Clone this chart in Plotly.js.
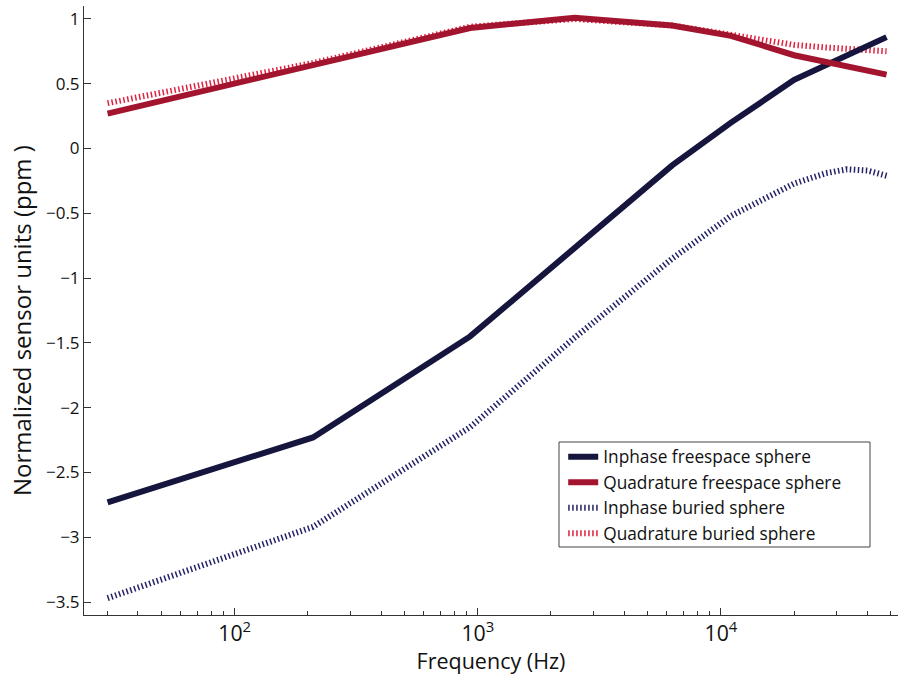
<!DOCTYPE html>
<html><head><meta charset="utf-8">
<script src="https://cdn.plot.ly/plotly-3.0.1.min.js"></script>
<style>html,body{margin:0;padding:0;background:#fff}#chart{width:898px;height:675px}</style>
</head><body><div id="chart"></div>
<script>
const freqSolid = [30, 210, 930, 2500, 6300, 11000, 20000, 48000];
const inphaseFree = [-2.73, -2.23, -1.45, -0.77, -0.13, 0.20, 0.53, 0.86];
const quadFree = [0.27, 0.64, 0.93, 1.01, 0.95, 0.87, 0.72, 0.57];
const freqBuried = [30, 210, 930, 2500, 6300, 11000, 20000, 27000, 33000, 40000, 48000];
const inphaseBuried = [-3.47, -2.92, -2.15, -1.46, -0.85, -0.52, -0.27, -0.19, -0.16, -0.17, -0.21];
const quadBuried = [0.35, 0.66, 0.94, 1.00, 0.95, 0.88, 0.80, 0.78, 0.77, 0.76, 0.75];
const names = ['Inphase freespace sphere', 'Quadrature freespace sphere', 'Inphase buried sphere', 'Quadrature buried sphere'];
const xTitle = 'Frequency (Hz)';
const yTitle = 'Normalized sensor units (ppm )';

const traces = [
  {x: freqSolid, y: inphaseFree, name: names[0], mode: 'lines', line: {color: '#15153d', width: 6}},
  {x: freqSolid, y: quadFree, name: names[1], mode: 'lines', line: {color: '#a3152e', width: 6}},
  {x: freqBuried, y: inphaseBuried, name: names[2], mode: 'lines', line: {color: '#232366', width: 6, dash: '1.5px,2.5px'}},
  {x: freqBuried, y: quadBuried, name: names[3], mode: 'lines', line: {color: '#e0203f', width: 6, dash: '1.5px,2.5px'}}
];
const ordered = [traces[2], traces[3], traces[0], traces[1]];
ordered[0].legendrank = 3; ordered[1].legendrank = 4; ordered[2].legendrank = 1; ordered[3].legendrank = 2;

const font = 'Open Sans, Noto Sans, sans-serif';
const W = 814, H = 609, L = 84, B = 615;
const layout = {
  width: 898, height: 675,
  margin: {l: 84, r: 0, t: 6, b: 60},
  paper_bgcolor: '#fff', plot_bgcolor: '#fff',
  font: {family: font, color: '#111', size: 16},
  showlegend: true,
  legend: {x: 0.5887, y: 0.2890, xanchor: 'left', yanchor: 'top', bgcolor: 'rgba(0,0,0,0)',
           borderwidth: 0, font: {size: 17.3, family: font},
           tracegroupgap: 0, itemwidth: 30, traceorder: 'normal'},
  shapes: [{type: 'rect', xref: 'paper', yref: 'paper', layer: 'above',
            x0: (559 - L) / W, x1: (870 - L) / W, y0: (B - 547) / H, y1: (B - 442) / H,
            line: {color: '#444', width: 1}, fillcolor: '#fff'}],
  xaxis: {type: 'log', range: [Math.log10(24), Math.log10(53500)],
          showline: true, linecolor: '#333', linewidth: 1, mirror: false,
          ticks: 'inside', ticklen: 7, tickcolor: '#333', dtick: 1,
          exponentformat: 'power', showgrid: false, zeroline: false,
          tickfont: {size: 17},
          minor: {ticks: 'inside', ticklen: 4, tickcolor: '#333', showgrid: false},
          title: {text: xTitle, font: {size: 21.5}, standoff: 8}},
  yaxis: {range: [-3.6, 1.1], showline: true, linecolor: '#333', linewidth: 1,
          ticks: 'inside', ticklen: 7, tickcolor: '#333', dtick: 0.5,
          showgrid: false, zeroline: false, tickfont: {size: 17}},
  annotations: [{text: yTitle, textangle: -90, xref: 'paper', yref: 'paper',
                 x: 0, xshift: -62, y: (B - 321) / H, xanchor: 'center', yanchor: 'middle',
                 showarrow: false, font: {size: 24, family: font, color: '#111'}}]
};
Plotly.newPlot('chart', ordered, layout, {displayModeBar: false, staticPlot: true});
</script></body></html>
